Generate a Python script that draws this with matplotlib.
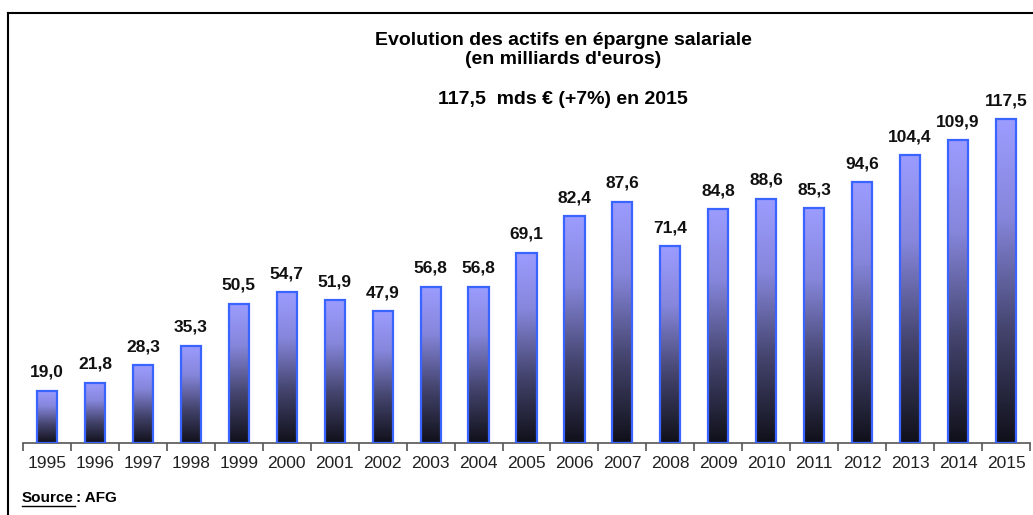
import numpy as np
import matplotlib.pyplot as plt
from matplotlib.colors import LinearSegmentedColormap
from matplotlib.patches import Rectangle
from matplotlib.lines import Line2D

plt.rcParams['font.family'] = ['Liberation Sans', 'DejaVu Sans']

# données (milliards d'euros)
years = ['1995', '1996', '1997', '1998', '1999', '2000', '2001', '2002', '2003', '2004', '2005',
         '2006', '2007', '2008', '2009', '2010', '2011', '2012', '2013', '2014', '2015']
values = [19.0, 21.8, 28.3, 35.3, 50.5, 54.7, 51.9, 47.9, 56.8, 56.8, 69.1,
          82.4, 87.6, 71.4, 84.8, 88.6, 85.3, 94.6, 104.4, 109.9, 117.5]

title = "Evolution des actifs en épargne salariale\n(en milliards d'euros)"
subtitle = "117,5  mds € (+7%) en 2015"

fig = plt.figure(figsize=(10.33, 5.15), dpi=100)
ax = fig.add_axes([23 / 1033, 72 / 515, 1007 / 1033, 358 / 515])

# degrade vertical de chaque barre
cmap = LinearSegmentedColormap.from_list('grad', [
    (0.0, '#10101a'), (0.35, '#44446e'), (0.7, '#8686dc'), (1.0, '#9c9cff')])
grad = np.linspace(0, 1, 256).reshape(-1, 1)

w = 0.42
x = np.arange(len(years))
for xi, v in zip(x, values):
    ax.imshow(grad, cmap=cmap, origin='lower', aspect='auto',
              extent=(xi - w / 2, xi + w / 2, 0, v), zorder=2)
    ax.add_patch(Rectangle((xi - w / 2, 0), w, v, fill=False,
                           edgecolor='#3a64ff', lw=1.6, zorder=3))
    ax.text(xi, v + 4.0, '{:.1f}'.format(v).replace('.', ','), ha='center', va='bottom',
            fontsize=12.5, fontweight='bold', color='#111111')

ax.set_xlim(-0.5, len(years) - 0.5)
ax.set_ylim(0, 130)
for s in ['top', 'right', 'left']:
    ax.spines[s].set_visible(False)
ax.spines['bottom'].set_color('#555555')
ax.spines['bottom'].set_linewidth(1.2)
ax.set_yticks([])
ax.set_xticks(np.arange(-0.5, len(years), 1), minor=False)
ax.set_xticklabels([])
ax.set_xticks(x, minor=True)
ax.set_xticklabels(years, minor=True, fontsize=12.5, color='#222222')
ax.tick_params(axis='x', which='major', length=6, color='#555555', width=1.2)
ax.tick_params(axis='x', which='minor', length=0, pad=9)

fig.text(563 / 1033, 1 - 50 / 515, title, ha='center', va='center',
         fontsize=14, fontweight='bold', linespacing=1.12)
fig.text(563 / 1033, 1 - 100 / 515, subtitle, ha='center', va='center',
         fontsize=14, fontweight='bold')

fig.text(22 / 1033, 1 - 498 / 515, 'Source', ha='left', va='center',
         fontsize=11, fontweight='bold')
fig.text(76 / 1033, 1 - 498 / 515, ': AFG', ha='left', va='center',
         fontsize=11, fontweight='bold')
fig.add_artist(Line2D([22 / 1033, 75 / 1033], [1 - 506 / 515] * 2, color='black', lw=1.0))

# cadre (haut et gauche)
fig.add_artist(Line2D([8 / 1033, 1], [1 - 13 / 515] * 2, color='black', lw=1.5))
fig.add_artist(Line2D([8 / 1033] * 2, [1 - 13 / 515, 0], color='black', lw=1.5))

fig.savefig('out.png', dpi=100)
